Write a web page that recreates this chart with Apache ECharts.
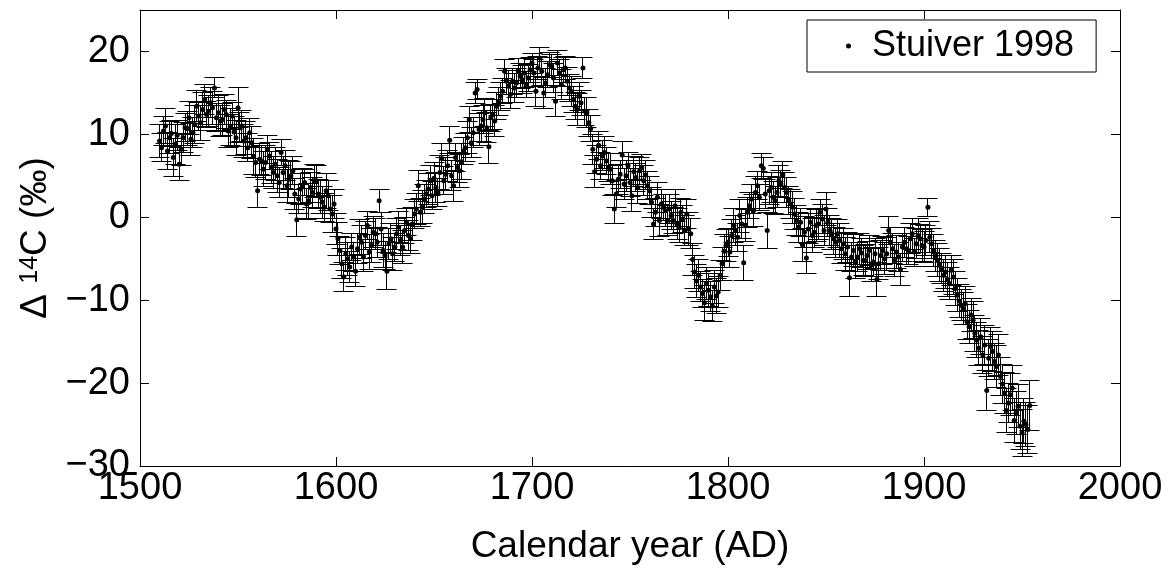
<!DOCTYPE html>
<html>
<head>
<meta charset="UTF-8">
<title>Stuiver 1998</title>
<style>html,body{margin:0;padding:0;background:#fff;}</style>
</head>
<body>
<div id="main" style="width:1173px;height:570px;"></div>
<script src="https://cdn.jsdelivr.net/npm/echarts@6/dist/echarts.min.js"></script>
<script>
// annual samples, 1510 .. 1954
var firstYear = 1510;
var yearStep = 1;

// delta 14C (permil), one row per decade
var d14c = [
  9.2, 8.4, 10.4, 11.0, 8.0, 9.6, 10.1, 7.2, 8.8, 9.9,
  6.4, 8.2, 9.6, 10.8, 10.7, 12.0, 9.4, 10.2, 11.2, 13.4,
  12.2, 11.4, 13.0, 14.2, 12.4, 12.8, 13.8, 13.2, 15.6, 12.0,
  12.6, 11.6, 11.8, 13.0, 12.4, 10.4, 10.9, 12.2, 10.3, 9.6,
  13.2, 10.8, 11.0, 9.2, 9.6, 8.4, 10.2, 9.0, 7.3, 6.6,
  3.2, 7.0, 6.8, 5.8, 6.6, 8.2, 7.4, 6.0, 5.4, 6.4,
  5.0, 4.2, 7.8, 5.4, 6.2, 3.8, 4.6, 5.0, 5.6, 2.8,
  -0.3, 2.2, 3.4, 3.8, 4.2, 1.6, 2.0, 3.6, 3.0, 4.4,
  4.4, 2.8, 2.4, 1.8, 1.2, 3.2, 2.6, 1.0, 0.4, 1.6,
  -1.4, -2.6, -4.0, -5.6, -7.2, -4.4, -5.0, -6.0, -3.6, -4.8,
  -6.5, -3.8, -2.4, -3.0, -4.8, -2.2, -1.0, -4.2, -3.4, -1.8,
  -2.0, -3.0, 2.0, -1.4, -4.0, -4.6, -6.5, -3.2, -2.6, -4.4,
  -3.6, -2.0, -1.2, -2.8, -3.6, -1.6, -0.6, -2.2, -2.6, -0.8,
  0.4, 1.0, 3.8, 0.6, 1.2, 2.2, 2.8, 3.4, 4.4, 2.6,
  4.7, 3.6, 3.0, 5.4, 7.1, 4.4, 5.2, 6.2, 9.3, 5.0,
  3.8, 7.2, 6.0, 5.6, 6.7, 8.0, 8.4, 9.6, 11.8, 9.0,
  10.2, 15.0, 15.4, 10.6, 11.0, 11.8, 12.6, 10.8, 8.5, 12.0,
  12.4, 11.6, 13.4, 14.0, 14.6, 15.2, 17.6, 16.4, 15.8, 14.8,
  16.4, 15.6, 16.2, 17.6, 17.0, 16.6, 17.4, 16.0, 16.8, 17.8,
  18.6, 17.4, 15.2, 18.0, 19.2, 17.6, 15.0, 16.2, 17.2, 18.4,
  18.2, 16.8, 14.0, 18.6, 17.4, 16.0, 17.8, 18.0, 16.4, 15.6,
  15.2, 14.2, 13.4, 13.0, 14.6, 13.8, 18.0, 12.8, 12.6, 11.4,
  10.7, 8.2, 5.5, 7.0, 8.7, 6.2, 7.4, 7.8, 6.8, 6.0,
  5.8, 4.4, 1.0, 2.8, 4.6, 5.2, 7.5, 4.0, 5.0, 6.2,
  4.2, 2.6, 5.5, 4.8, 3.6, 5.6, 6.0, 4.4, 5.1, 3.8,
  3.2, 1.8, -0.8, 0.6, 2.4, -0.4, 1.6, 1.2, 0.8, -0.4,
  1.0, 0.2, -0.4, 1.4, -0.8, -1.2, 0.6, -0.2, -1.6, 0.4,
  -1.4, -2.0, -5.1, -6.6, -7.7, -7.0, -8.4, -9.2, -10.3, -8.0,
  -8.8, -9.6, -10.7, -8.4, -9.5, -9.0, -7.0, -5.6, -4.1, -3.4,
  -3.0, -4.2, -2.2, -1.0, -1.6, -2.4, 0.2, -0.8, -5.5, -1.0,
  0.6, 1.4, 2.2, 0.8, 3.0, 3.8, 2.4, 6.2, 5.9, 2.8,
  -1.6, 3.2, 3.6, 2.4, 2.0, 3.0, 4.4, 4.0, 5.1, 3.6,
  3.0, 2.0, 1.6, 1.2, 0.4, -0.4, -1.2, -0.6, -3.3, -1.8,
  -4.9, -1.4, -0.6, -2.2, -1.8, -1.0, -0.8, 0.6, -0.2, -1.6,
  1.0, -0.6, -1.6, -2.0, -2.6, -3.0, -2.0, -2.8, -3.8, -3.2,
  -4.4, -3.6, -7.3, -4.8, -4.0, -5.4, -4.8, -3.8, -4.3, -5.2,
  -5.2, -4.6, -4.0, -5.8, -5.4, -4.4, -7.5, -5.6, -4.6, -4.0,
  -5.0, -4.4, -1.6, -3.0, -3.8, -5.2, -4.2, -4.8, -6.3, -3.6,
  -3.0, -3.8, -4.0, -2.6, -2.0, -4.2, -3.2, -2.2, -2.6, -3.4,
  -3.6, -2.8, 1.2, -2.4, -3.2, -4.0, -4.7, -5.2, -5.8, -6.2,
  -7.0, -6.6, -7.5, -8.0, -6.4, -7.2, -8.6, -9.4, -10.1, -10.6,
  -11.0, -10.4, -12.6, -13.2, -11.8, -12.4, -14.0, -14.8, -15.8, -14.4,
  -16.6, -15.4, -20.9, -17.0, -15.6, -16.2, -17.4, -18.0, -16.6, -19.2,
  -20.1, -21.2, -23.3, -22.4, -21.4, -20.6, -24.5, -23.6, -22.8, -25.2,
  -26.0, -24.6, -25.0, -25.6, -22.7
];

// 1-sigma errors (permil), same layout
var d14cErr = [
  2.0, 1.7, 1.8, 2.1, 2.2, 1.9, 1.6, 2.3, 2.4, 1.8,
  2.0, 1.9, 1.8, 1.7, 2.1, 2.0, 1.9, 1.8, 2.3, 1.9,
  1.7, 2.1, 2.0, 1.8, 1.6, 1.9, 1.8, 2.0, 1.2, 1.7,
  2.1, 1.9, 1.9, 1.8, 1.7, 2.0, 2.2, 1.6, 1.8, 2.1,
  2.4, 1.8, 1.9, 2.0, 2.0, 1.7, 1.7, 1.9, 2.2, 1.8,
  2.0, 1.9, 1.8, 2.1, 2.1, 1.7, 1.6, 1.9, 1.9, 2.0,
  2.0, 1.8, 1.6, 1.9, 1.8, 2.0, 2.2, 1.7, 1.7, 1.9,
  2.0, 1.8, 1.9, 2.1, 1.6, 1.9, 2.1, 1.8, 1.8, 2.0,
  1.9, 1.7, 2.0, 1.9, 1.7, 2.1, 1.8, 1.6, 2.2, 1.8,
  1.9, 2.0, 1.7, 1.8, 1.8, 2.0, 2.0, 1.9, 1.6, 1.7,
  1.9, 1.8, 2.1, 2.0, 1.8, 1.7, 1.7, 2.1, 2.0, 1.9,
  1.9, 1.8, 1.4, 2.0, 2.0, 1.7, 2.2, 1.9, 1.8, 2.0,
  1.7, 1.9, 1.9, 1.8, 2.0, 1.6, 1.6, 1.8, 1.8, 2.0,
  1.7, 1.9, 1.9, 1.7, 2.0, 1.8, 1.6, 1.9, 1.8, 1.7,
  1.9, 1.8, 1.7, 2.0, 1.8, 1.7, 2.0, 1.9, 1.6, 1.8,
  1.9, 1.7, 1.8, 2.0, 2.2, 1.6, 1.7, 1.9, 1.6, 1.8,
  1.8, 1.3, 1.2, 1.9, 1.9, 1.7, 1.7, 1.8, 2.0, 1.6,
  1.8, 1.9, 1.6, 1.7, 1.7, 1.5, 1.4, 1.6, 1.9, 1.7,
  1.6, 1.8, 1.8, 1.5, 1.5, 1.7, 1.7, 1.6, 1.6, 1.5,
  1.2, 1.6, 1.8, 1.4, 1.3, 1.7, 1.9, 1.8, 1.6, 1.5,
  1.4, 1.7, 1.9, 1.5, 1.6, 1.8, 1.5, 1.4, 1.7, 1.6,
  1.8, 1.6, 1.6, 1.9, 1.7, 1.5, 1.3, 1.7, 1.8, 1.6,
  1.6, 1.8, 1.9, 1.7, 1.7, 1.6, 1.8, 1.9, 1.6, 1.7,
  1.9, 1.8, 1.7, 1.6, 1.8, 1.7, 1.6, 1.9, 1.9, 1.6,
  1.7, 1.9, 1.8, 1.7, 1.9, 1.6, 1.6, 1.8, 1.8, 1.7,
  1.7, 1.8, 1.9, 1.7, 1.8, 1.9, 1.7, 1.6, 1.9, 1.8,
  1.8, 1.7, 1.6, 1.9, 1.9, 1.8, 1.7, 1.6, 1.8, 1.7,
  2.0, 1.8, 1.9, 2.0, 2.0, 1.9, 1.8, 1.7, 2.1, 1.9,
  2.0, 1.8, 1.9, 2.0, 2.1, 1.9, 1.8, 2.0, 2.0, 1.9,
  1.7, 1.9, 1.9, 2.0, 1.8, 1.7, 2.0, 1.8, 2.1, 1.9,
  1.8, 1.6, 1.7, 1.9, 1.9, 1.7, 1.6, 1.5, 1.3, 1.8,
  2.2, 1.7, 1.8, 1.9, 1.7, 1.8, 1.9, 1.6, 1.6, 1.8,
  1.8, 1.7, 1.7, 1.9, 1.9, 1.8, 1.8, 1.7, 2.0, 1.9,
  1.9, 1.8, 1.7, 2.0, 1.8, 1.9, 1.9, 1.6, 1.7, 1.8,
  2.0, 1.7, 1.8, 1.9, 1.9, 1.8, 1.7, 2.0, 1.8, 1.9,
  2.0, 1.8, 2.2, 1.7, 1.9, 2.0, 1.8, 1.9, 1.7, 1.8,
  1.9, 1.7, 1.8, 2.0, 1.7, 1.8, 2.1, 1.9, 1.8, 1.7,
  1.9, 2.0, 1.7, 1.8, 1.8, 1.9, 2.0, 1.8, 1.9, 1.7,
  1.8, 1.9, 1.7, 1.8, 1.9, 1.7, 1.8, 2.0, 1.7, 1.9,
  1.9, 1.8, 1.1, 1.9, 1.8, 1.9, 1.9, 2.0, 2.0, 1.8,
  1.9, 2.0, 2.0, 1.9, 1.8, 2.1, 2.1, 2.0, 2.0, 1.9,
  1.9, 2.1, 2.1, 2.0, 2.0, 2.2, 2.2, 2.1, 2.1, 2.2,
  2.2, 2.3, 2.4, 2.2, 2.3, 2.4, 2.2, 2.5, 2.5, 2.3,
  2.4, 2.5, 2.6, 2.4, 2.5, 2.7, 2.7, 2.6, 2.6, 2.8,
  2.8, 2.7, 2.6, 2.9, 3.0
];

var xTicks = [1500, 2000, 100];   // min, max, step
var yTicks = [-30, 25, 10];

var points = [], bars = [];
for (var i = 0; i < d14c.length; i++) {
    var yr = firstYear + i * yearStep;
    points.push([yr, d14c[i]]);
    bars.push([yr, d14c[i] - d14cErr[i], d14c[i] + d14cErr[i]]);
}

var font = 'Liberation Sans, Arial, sans-serif';
var ink = '#000';

function minus(v) { return String(v).replace('-', '\u2212'); }
// snap to pixel centre so 1px lines stay crisp black
function px(v) { return Math.round(v - 0.5) + 0.5; }

// error bar: stem + two caps
function renderBar(params, api) {
    var x = api.value(0);
    var lo = api.coord([x, api.value(1)]);
    var hi = api.coord([x, api.value(2)]);
    var cx = px(lo[0]), y1 = px(lo[1]), y2 = px(hi[1]);
    var w = 10;
    var st = { stroke: ink, lineWidth: 1 };
    return {
        type: 'group',
        children: [
            { type: 'line', shape: { x1: cx, y1: y1, x2: cx, y2: y2 }, style: st },
            { type: 'line', shape: { x1: cx - w, y1: y1, x2: cx + w, y2: y1 }, style: st },
            { type: 'line', shape: { x1: cx - w, y1: y2, x2: cx + w, y2: y2 }, style: st }
        ]
    };
}

var chart = echarts.init(document.getElementById('main'));

var frameX = {
    type: 'value', min: xTicks[0], max: xTicks[1], interval: xTicks[2],
    axisLine: { show: true, onZero: false, lineStyle: { color: ink, width: 1 } },
    axisTick: { show: true, inside: true, length: 9, lineStyle: { color: ink } },
    splitLine: { show: false }
};
var frameY = {
    type: 'value', min: yTicks[0], max: yTicks[1], interval: yTicks[2],
    axisLine: { show: true, onZero: false, lineStyle: { color: ink, width: 1 } },
    axisTick: { show: true, inside: true, length: 9, lineStyle: { color: ink } },
    splitLine: { show: false }
};

var option = {
    animation: false,
    backgroundColor: '#fff',
    grid: { left: 140, right: 53, top: 10, bottom: 96 },
    legend: {
        data: ['Stuiver 1998'],
        left: 807, top: 20,
        orient: 'vertical',
        backgroundColor: '#fff',
        borderColor: ink, borderWidth: 1, borderRadius: 0,
        padding: [8, 22, 8, 39],
        icon: 'circle',
        itemWidth: 37, itemHeight: 5,
        textStyle: { fontFamily: font, fontSize: 36, color: ink }
    },
    xAxis: [
        Object.assign({}, frameX, {
            position: 'bottom',
            name: 'Calendar year (AD)',
            nameLocation: 'middle',
            nameGap: 62,
            nameTextStyle: { fontFamily: font, fontSize: 37, color: ink },
            axisLabel: {
                fontFamily: font, fontSize: 38, color: ink, margin: 4,
                formatter: function (v) { return String(v); }
            }
        }),
        Object.assign({}, frameX, { position: 'top', axisLabel: { show: false } })
    ],
    yAxis: [
        Object.assign({}, frameY, {
            position: 'left',
            name: '{a|\u0394 }{s|14}{a|C (\u2030)}',
            nameLocation: 'middle',
            nameGap: 78,
            nameTextStyle: {
                color: ink,
                rich: {
                    a: { fontFamily: font, fontSize: 37, color: ink },
                    s: { fontFamily: font, fontSize: 25, color: ink, verticalAlign: 'top' }
                }
            },
            axisLabel: {
                fontFamily: font, fontSize: 38, color: ink, margin: 10,
                showMaxLabel: false, formatter: minus
            }
        }),
        Object.assign({}, frameY, { position: 'right', axisLabel: { show: false } })
    ],
    series: [
        {
            type: 'custom',
            name: 'errors',
            renderItem: renderBar,
            encode: { x: 0, y: [1, 2] },
            data: bars,
            silent: true,
            z: 2
        },
        {
            type: 'scatter',
            name: 'Stuiver 1998',
            data: points,
            symbol: 'circle',
            symbolSize: 5,
            itemStyle: { color: ink, opacity: 1 },
            silent: true,
            z: 3
        }
    ]
};

chart.setOption(option);
</script>
</body>
</html>
